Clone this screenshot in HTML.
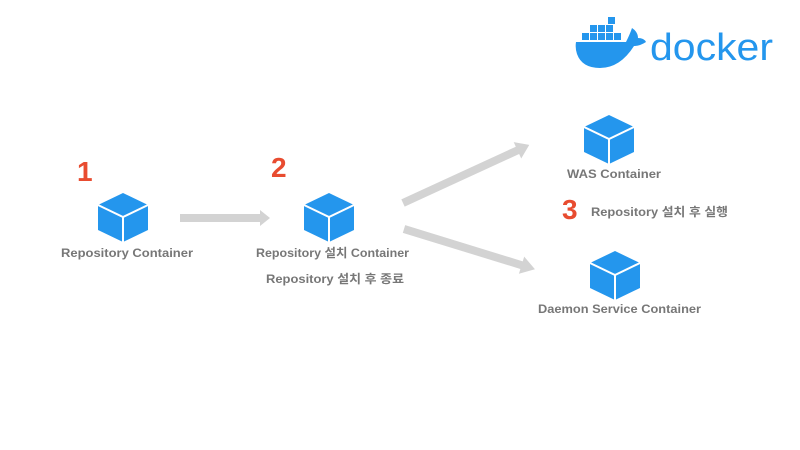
<!DOCTYPE html>
<html><head><meta charset="utf-8"><style>
html,body{margin:0;padding:0;background:#fff;}
svg{display:block;}
text{font-family:"Liberation Sans","Noto Sans CJK KR",sans-serif;font-weight:bold;}
</style></head><body>
<svg width="800" height="450" viewBox="0 0 800 450" xmlns="http://www.w3.org/2000/svg">
<defs>
<g id="cube">
<polygon points="0,-24 25,-12 25,13 0,25 -25,13 -25,-12" fill="#2496ed"/>
<polyline points="-25,-12 0,0 25,-12" fill="none" stroke="#fff" stroke-width="2"/>
<line x1="0" y1="0" x2="0" y2="25" stroke="#fff" stroke-width="2"/>
</g>
</defs>
<!-- docker logo -->
<g fill="#2496ed">
<rect x="608" y="17" width="7" height="7"/>
<rect x="590" y="25" width="7" height="7"/><rect x="598" y="25" width="7" height="7"/><rect x="606" y="25" width="7" height="7"/>
<rect x="582" y="33" width="7" height="7"/><rect x="590" y="33" width="7" height="7"/><rect x="598" y="33" width="7" height="7"/><rect x="606" y="33" width="7" height="7"/><rect x="614" y="33" width="7" height="7"/>
<path d="M576,42 L626,42 Q630,34 632,28 Q638,32 638,38 Q644,38 646,42 Q640,46 634,46 Q620,68 600,68 Q582,68 577,54 Q575,48 576,42 Z"/>
<text x="650" y="60" font-size="38" textLength="123" lengthAdjust="spacingAndGlyphs" style="font-weight:normal" fill="#2496ed">docker</text>
</g>
<!-- arrows -->
<g fill="#d3d3d3">
<polygon points="180,214 260,214 260,210 270,218 260,226 260,222 180,222"/>
<g transform="translate(403,203) rotate(-24.7)"><polygon points="0,-4 126,-4 126,-9 139,0 126,9 126,4 0,4"/></g>
<g transform="translate(404,229) rotate(17.1)"><polygon points="0,-4 123,-4 123,-9 137,0 123,9 123,4 0,4"/></g>
</g>
<!-- cubes -->
<use href="#cube" x="123" y="217"/>
<use href="#cube" x="329" y="217"/>
<use href="#cube" x="609" y="139"/>
<use href="#cube" x="615" y="275"/>
<!-- numbers -->
<g fill="#e84c30" font-size="28">
<text x="77" y="181">1</text>
<text x="271" y="177">2</text>
<text x="562" y="219">3</text>
</g>
<g fill="#777" font-size="12" lengthAdjust="spacingAndGlyphs">
<text x="61" y="257" textLength="132" lengthAdjust="spacingAndGlyphs">Repository Container</text>
<text x="256" y="257" textLength="153" lengthAdjust="spacingAndGlyphs">Repository 설치 Container</text>
<text x="266" y="283" textLength="138" lengthAdjust="spacingAndGlyphs">Repository  설치 후 종료</text>
<text x="567" y="178" textLength="94" lengthAdjust="spacingAndGlyphs">WAS Container</text>
<text x="591" y="216" textLength="137" lengthAdjust="spacingAndGlyphs">Repository  설치 후 실행</text>
<text x="538" y="313" textLength="163" lengthAdjust="spacingAndGlyphs">Daemon Service Container</text>
</g>
</svg>
</body></html>
